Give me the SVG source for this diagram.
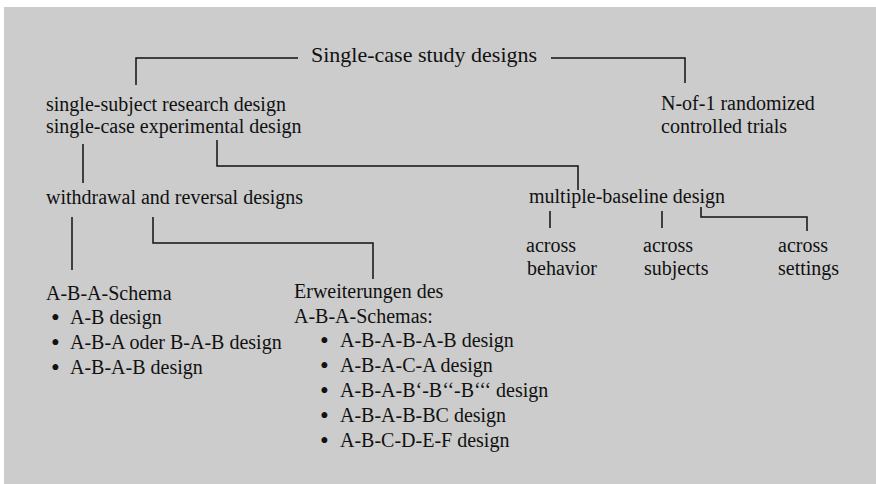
<svg xmlns="http://www.w3.org/2000/svg" width="876" height="484" viewBox="0 0 876 484">
<style>
text{font-family:"Liberation Serif","Times New Roman",serif;font-size:20px;fill:#111}
.title{font-size:22px}
.b{font-size:25px}
.c{fill:none;stroke:#111;stroke-width:1.5}
</style>
<rect x="0" y="0" width="876" height="484" fill="#ffffff"/>
<rect x="4" y="7" width="872" height="477" fill="#cccccc"/>
<g id="connectors">
<path class="c" d="M136 85V58H298"/>
<path class="c" d="M551 58H685V83"/>
<path class="c" d="M83 144V183"/>
<path class="c" d="M217 140V166H578V190"/>
<path class="c" d="M72 217V270"/>
<path class="c" d="M153 217V243H373V279"/>
<path class="c" d="M550 211V228"/>
<path class="c" d="M662 211V228"/>
<path class="c" d="M701 207V217H807V231"/>
</g>
<g id="root"><text class="title" x="311" y="62">Single-case study designs</text></g>
<g id="single-subject"><text x="46" y="111">single-subject research design</text><text x="46" y="133">single-case experimental design</text></g>
<g id="n-of-1"><text x="661" y="110">N-of-1 randomized</text><text x="661" y="133">controlled trials</text></g>
<g id="withdrawal"><text x="46" y="204">withdrawal and reversal designs</text></g>
<g id="multiple-baseline"><text x="529" y="203">multiple-baseline design</text></g>
<g id="across-behavior"><text x="526" y="252">across</text><text x="527" y="275">behavior</text></g>
<g id="across-subjects"><text x="643" y="252">across</text><text x="644" y="275">subjects</text></g>
<g id="across-settings"><text x="778" y="252">across</text><text x="778" y="275">settings</text></g>
<g id="aba-schema">
<text x="46" y="300">A-B-A-Schema</text>
<text class="b" x="51" y="326">•</text><text x="70" y="324">A-B design</text>
<text class="b" x="51" y="351">•</text><text x="70" y="349">A-B-A oder B-A-B design</text>
<text class="b" x="51" y="376">•</text><text x="70" y="374">A-B-A-B design</text>
</g>
<g id="erweiterungen">
<text x="294" y="298">Erweiterungen des</text>
<text x="294" y="323">A-B-A-Schemas:</text>
<text class="b" x="320" y="349">•</text><text x="340" y="347">A-B-A-B-A-B design</text>
<text class="b" x="320" y="374">•</text><text x="340" y="372">A-B-A-C-A design</text>
<text class="b" x="320" y="399">•</text><text x="340" y="397">A-B-A-B‘-B‘‘-B‘‘‘ design</text>
<text class="b" x="320" y="424">•</text><text x="340" y="422">A-B-A-B-BC design</text>
<text class="b" x="320" y="449">•</text><text x="340" y="447">A-B-C-D-E-F design</text>
</g>
</svg>
